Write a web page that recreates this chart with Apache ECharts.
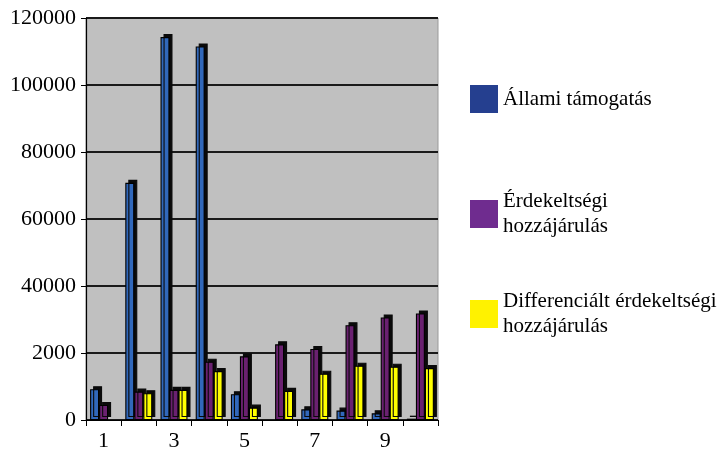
<!DOCTYPE html>
<html>
<head>
<meta charset="utf-8">
<script src="https://cdn.jsdelivr.net/npm/echarts@6/dist/echarts.min.js"></script>
<style>html,body{margin:0;padding:0;background:#fff;}#c{width:720px;height:452px;}</style>
</head>
<body>
<div id="c"></div>
<script>
var categories = ['1','2','3','4','5','6','7','8','9','10'];
var seriesNames = ['Állami támogatás', 'Érdekeltségi\nhozzájárulás', 'Differenciált érdekeltségi\nhozzájárulás'];
var allami = [9200, 70800, 114300, 111500, 7700, null, 3200, 2800, 2000, 400];
var erdekeltsegi = [4500, 8500, 9000, 17400, 19000, 22600, 21200, 28300, 30600, 31800];
var differencialt = [null, 8000, 9000, 14600, 3700, 8700, 13800, 16200, 15900, 15500];
var yTickLabels = {0:'0', 20000:'2000', 40000:'40000', 60000:'60000', 80000:'80000', 100000:'100000', 120000:'120000'};

var font = 'Liberation Serif';
var barColors = ['#3168bb', '#6a2170', '#ffff00'];
var legendColors = ['#253f8f', '#6f2c8f', '#fff200'];
var values = [allami, erdekeltsegi, differencialt];

var series = seriesNames.map(function(n, i){
  return {
    name: n, type: 'bar', data: values[i], barWidth: 9, barGap: '0%',
    itemStyle: {color: barColors[i], borderColor: '#000', borderWidth: 1.1,
      shadowColor: '#0a0a0a', shadowOffsetX: 3, shadowOffsetY: -3, shadowBlur: 0}
  };
});

var legendTops = [80, 184, 284];
var legends = seriesNames.map(function(n, i){
  return {
    orient: 'vertical', left: 465, top: legendTops[i],
    itemWidth: 28, itemHeight: 28, icon: 'rect',
    data: [{name: n, itemStyle: {color: legendColors[i], borderWidth: 0, shadowBlur: 0, shadowOffsetX: 0, shadowOffsetY: 0}}],
    textStyle: {fontFamily: font, fontSize: 21, color: '#000', lineHeight: 25},
    itemGap: 0, selectedMode: false
  };
});

var chart = echarts.init(document.getElementById('c'));
chart.setOption({
  animation: false,
  backgroundColor: '#fff',
  grid: {left: 86, right: 282, top: 18, bottom: 30, show: true, backgroundColor: '#c0c0c0', borderColor: '#9a9a9a', borderWidth: 1},
  legend: legends,
  xAxis: {
    type: 'category', data: categories,
    axisLine: {lineStyle: {color: '#000', width: 1.2}},
    axisTick: {show: true, interval: 0, length: 6, lineStyle: {color: '#000'}},
    axisLabel: {interval: 1, fontFamily: font, fontSize: 22, color: '#000', margin: 10}
  },
  yAxis: {
    type: 'value', min: 0, max: 120000, interval: 20000,
    axisLine: {show: true, lineStyle: {color: '#000', width: 1.2}},
    axisTick: {show: true, length: 5, lineStyle: {color: '#000'}},
    axisLabel: {fontFamily: font, fontSize: 22, color: '#000', margin: 10,
      formatter: function(v){ return yTickLabels[v] !== undefined ? yTickLabels[v] : ''; }},
    splitLine: {lineStyle: {color: '#1a1a1a', width: 1.8}}
  },
  series: series
});
</script>
</body>
</html>
